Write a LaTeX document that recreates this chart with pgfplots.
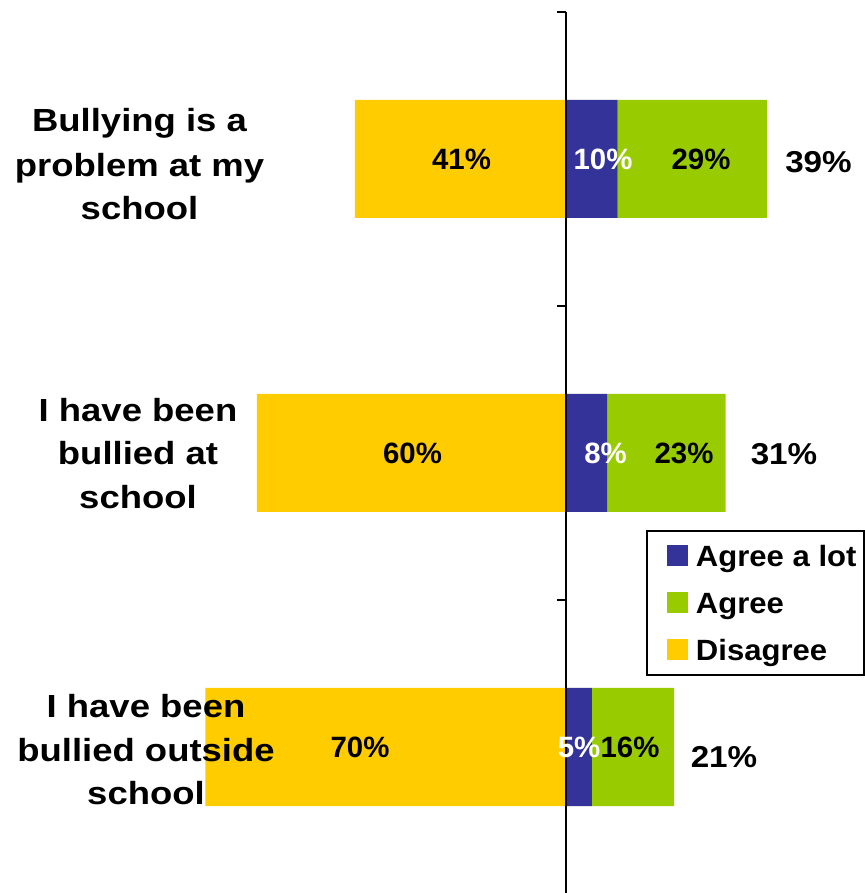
\documentclass[border=0pt]{standalone}
\usepackage{fontspec}
\setmainfont{Liberation Sans}
\newfontfamily\catfont{Liberation Sans}[FakeStretch=1.14]
\newfontfamily\legfont{Liberation Sans}[FakeStretch=1.06]
\newfontfamily\totfont{Liberation Sans}[FakeStretch=1.10]
\usepackage{pgfplots}
\pgfplotsset{compat=1.18}
\definecolor{agreelot}{HTML}{333399}
\definecolor{agree}{HTML}{99CC00}
\definecolor{disagree}{HTML}{FFCC00}
\pgfplotsset{
  common/.style={
    at={(0pt,0pt)}, anchor=south west,
    scale only axis, width=432.5pt, height=440.5pt,
    xmin=-109.9, xmax=58.06, ymin=0.5034, ymax=3.5,
    bar width=0.4014, clip=false}
}
\begin{document}
\begin{tikzpicture}
% Disagree bars (to the left of 0)
\begin{axis}[common, hide axis, xbar, bar shift=0pt]
\addplot[fill=disagree, draw=none] coordinates {(-70,1) (-60,2) (-41,3)};
\end{axis}
% Agree bars (stacked, to the right of 0), axis line and legend
\begin{axis}[common, xbar stacked,
  axis y line=middle, axis x line=none,
  axis line style={-, line width=1pt, black},
  ytick={1.5,2.5,3.5}, yticklabels={}, xtick=\empty,
  tick align=outside, major tick length=4.5pt,
  tick style={line width=1pt, black},
  axis on top,
  legend style={at={(0.7468,0.4120)}, anchor=north west, draw=black, line width=1pt,
    inner xsep=3.5pt, inner ysep=7pt, row sep=12.8pt,
    font=\legfont\bfseries\fontsize{14.65pt}{16pt}\selectfont,
    nodes={inner sep=0pt, text height=10.5pt, text depth=0pt}},
  legend cell align=left,
  legend image code/.code={\path (0pt,-5pt) (21pt,-5pt);
    \fill[#1] (6.5pt,-5pt) rectangle (17pt,5.5pt);},
]
\addplot[fill=agreelot, draw=none] coordinates {(5,1) (8,2) (10,3)};
\addlegendentry{Agree a lot}
\addplot[fill=agree, draw=none] coordinates {(16,1) (23,2) (29,3)};
\addlegendentry{Agree}
\addlegendimage{fill=disagree, draw=none}
\addlegendentry{Disagree}
\end{axis}
\begin{scope}[x=0.5pt, y=-0.5pt, shift={(0pt,446.5pt)},
  cat/.style={anchor=base, inner sep=0pt, font=\catfont\bfseries\fontsize{16pt}{22pt}\selectfont},
  dat/.style={anchor=base, inner sep=0pt, font=\bfseries\fontsize{14.7pt}{17pt}\selectfont},
  tot/.style={anchor=base, inner sep=0pt, font=\totfont\bfseries\fontsize{15.1pt}{18pt}\selectfont}]
\node[cat] at (139.5,132) {Bullying is a};
\node[cat] at (139.5,176.7) {problem at my};
\node[cat] at (139.5,220) {school};
\node[cat] at (138,421.5) {I have been};
\node[cat] at (138,465) {bullied at};
\node[cat] at (138,508.5) {school};
\node[cat] at (146,718) {I have been};
\node[cat] at (146,762) {bullied outside};
\node[cat] at (146,805) {school};
\node[dat] at (461.5,170) {41\%};
\node[dat, text=white] at (603,170) {10\%};
\node[dat] at (701,170) {29\%};
\node[dat] at (412.5,463.5) {60\%};
\node[dat, text=white] at (605.5,463.5) {8\%};
\node[dat] at (684,463.5) {23\%};
\node[dat] at (360,758) {70\%};
\node[dat, text=white] at (579,758) {5\%};
\node[dat] at (630,758) {16\%};
\node[tot] at (818.5,173) {39\%};
\node[tot] at (784,465) {31\%};
\node[tot] at (724,768) {21\%};
\end{scope}
\pgfresetboundingbox
\path (0pt,0pt) rectangle (432.5pt,446.5pt);
\end{tikzpicture}
\end{document}
